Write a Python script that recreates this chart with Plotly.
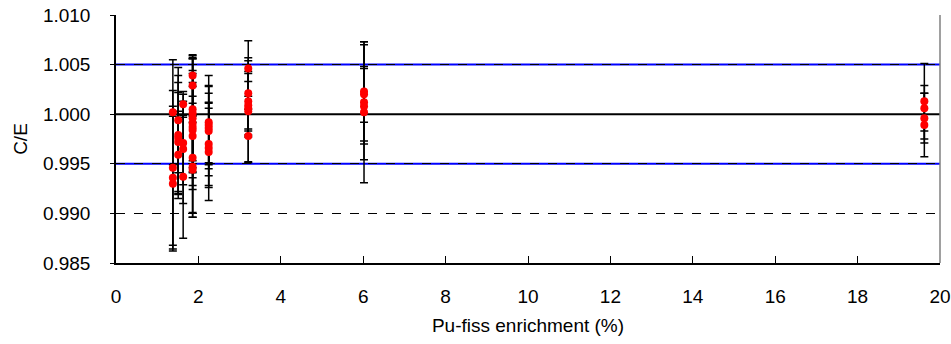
import plotly.graph_objects as go

# Pu-fissile enrichment (%) for each measured configuration
enrichment = [
    1.38, 1.38, 1.38, 1.38,
    1.51, 1.51, 1.51, 1.51, 1.51,
    1.63, 1.63, 1.63, 1.63,
    1.86, 1.86, 1.86, 1.86, 1.86, 1.86, 1.86, 1.86, 1.86, 1.86, 1.86, 1.86,
    2.25, 2.25, 2.25, 2.25, 2.25, 2.25, 2.25,
    3.21, 3.21, 3.21, 3.21, 3.21, 3.21, 3.21,
    6.02, 6.02, 6.02, 6.02, 6.02,
    19.62, 19.62, 19.62, 19.62,
]

# Calculated / experimental ratio
ce_ratio = [
    1.0002, 0.9946, 0.9936, 0.9930,
    0.9994, 0.9979, 0.9976, 0.9972, 0.9959,
    1.0010, 0.9971, 0.9965, 0.9937,
    1.0039, 1.0029, 1.0005, 1.0001, 0.9996, 0.9991, 0.9987, 0.9984, 0.9978, 0.9956, 0.9947, 0.9944,
    0.9992, 0.9989, 0.9986, 0.9983, 0.9970, 0.9966, 0.9962,
    1.0046, 1.0021, 1.0013, 1.0009, 1.0006, 1.0003, 0.9978,
    1.0023, 1.0020, 1.0012, 1.0008, 1.0002,
    1.0013, 1.0006, 0.9996, 0.9989,
]

# One-sigma uncertainty of each ratio
ce_sigma = [
    0.0053, 0.0078, 0.0072, 0.0068,
    0.0053, 0.0060, 0.0056, 0.0050, 0.0044,
    0.0013, 0.0042, 0.0055, 0.0062,
    0.0021, 0.0030, 0.0052, 0.0055, 0.0060, 0.0050, 0.0045, 0.0060, 0.0050, 0.0055, 0.0051, 0.0048,
    0.0047, 0.0040, 0.0035, 0.0045, 0.0042, 0.0040, 0.0049,
    0.0028, 0.0036, 0.0030, 0.0032, 0.0027, 0.0051, 0.0027,
    0.0050, 0.0028, 0.0058, 0.0038, 0.0071,
    0.0038, 0.0023, 0.0025, 0.0032,
]

# Reference levels: unity and the +/-0.5 % band
unity_level = 1.000
band_levels = [1.005, 0.995]

x_ticks = [0, 2, 4, 6, 8, 10, 12, 14, 16, 18, 20]
y_ticks = [0.985, 0.990, 0.995, 1.000, 1.005, 1.010]

font_family = "Liberation Sans, Arial, sans-serif"

fig = go.Figure()

fig.add_trace(go.Scatter(
    x=enrichment,
    y=ce_ratio,
    mode="markers",
    marker=dict(color="#FF0000", size=8, line=dict(width=0)),
    error_y=dict(type="data", array=ce_sigma, visible=True,
                 color="#000000", thickness=1.5, width=4),
    showlegend=False,
))

shapes = []
for lvl in band_levels:
    shapes.append(dict(type="line", xref="paper", yref="y", x0=0, x1=1,
                       y0=lvl, y1=lvl, layer="between",
                       line=dict(color="#0000FF", width=2)))
shapes.append(dict(type="line", xref="paper", yref="y", x0=0, x1=1,
                   y0=unity_level, y1=unity_level, layer="between",
                   line=dict(color="#000000", width=2)))
# right-hand frame of the plot area
shapes.append(dict(type="line", xref="paper", yref="paper", x0=1, x1=1,
                   y0=0, y1=1, layer="above",
                   line=dict(color="#808080", width=1.5)))

fig.update_layout(
    width=951, height=344,
    margin=dict(l=116, r=11, t=15, b=81),
    paper_bgcolor="white", plot_bgcolor="white",
    font=dict(family=font_family, size=19, color="#000000"),
    shapes=shapes,
    xaxis=dict(
        range=[0, 20], tickvals=x_ticks, ticktext=[str(t) for t in x_ticks],
        ticks="inside", ticklen=7, tickcolor="#000000", tickwidth=1,
        ticklabelstandoff=15,
        showline=True, linecolor="#000000", linewidth=1.5,
        showgrid=False, zeroline=False, automargin=False,
        title=dict(text="Pu-fiss enrichment (%)", standoff=13,
                   font=dict(size=19)),
    ),
    yaxis=dict(
        range=[0.985, 1.010], tickvals=y_ticks,
        ticktext=[f"{t:.3f}" for t in y_ticks],
        ticks="outside", ticklen=4, tickcolor="#000000", tickwidth=1,
        ticklabelstandoff=16,
        showline=True, linecolor="#000000", linewidth=1.5,
        showgrid=True, gridcolor="#000000", gridwidth=1, griddash="dash",
        zeroline=False, automargin=False,
        title=dict(text="C/E", standoff=10, font=dict(size=19)),
    ),
)

fig.write_html("out.html")
